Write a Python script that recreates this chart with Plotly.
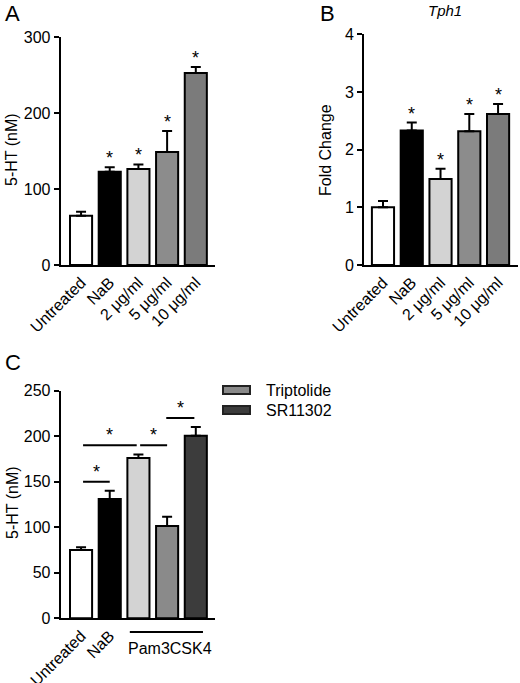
import plotly.graph_objects as go

# panel A: 5-HT release
a_labels = ["Untreated", "NaB", "2 μg/ml", "5 μg/ml", "10 μg/ml"]
a_vals = [65, 123, 126.5, 149, 253]
a_err = [5, 5.7, 6, 27.5, 8]
a_sig = [False, True, True, True, True]

# panel B: Tph1 fold change
b_labels = ["Untreated", "NaB", "2 μg/ml", "5 μg/ml", "10 μg/ml"]
b_vals = [1.0, 2.33, 1.49, 2.32, 2.62]
b_err = [0.11, 0.14, 0.18, 0.30, 0.17]
b_sig = [False, True, True, True, True]

# panel C: inhibitors
c_names = ["Untreated", "NaB", "Pam3CSK4", "Triptolide", "SR11302"]
c_ticks = ["Untreated", "NaB", "", "", ""]
c_vals = [75, 131, 176, 101.5, 200.5]
c_err = [3, 9, 4, 10, 9.5]
c_legend = [False, False, False, True, True]
# comparisons (x0, x1, y)
c_comp_x0 = [0.07, 0.07, 2.06, 2.97]
c_comp_x1 = [1.0, 1.94, 3.0, 3.95]
c_comp_y = [150, 190, 190, 220]

ab_colors = ["white", "black", "#d3d3d3", "#8c8c8c", "#7b7b7b"]
c_colors = ["white", "black", "#d3d3d3", "#8a8a8a", "#3c3c3c"]

FONT = "Liberation Sans, Arial, sans-serif"
pos = list(range(5))
W, H = 520, 683

def px(x, y):
    return x / W, 1 - y / H

fig = go.Figure()

def add_bars(vals, err, colors, xa, ya):
    for i in range(len(vals)):
        fig.add_trace(go.Bar(
            x=[pos[i]], y=[vals[i]], xaxis=xa, yaxis=ya, width=0.77,
            marker=dict(color=colors[i], line=dict(color="black", width=2)),
            error_y=dict(type="data", array=[err[i]], arrayminus=[0], symmetric=False,
                         color="black", thickness=2, width=5),
            showlegend=False,
        ))

add_bars(a_vals, a_err, ab_colors, "x", "y")
add_bars(b_vals, b_err, ab_colors, "x2", "y2")
add_bars(c_vals, c_err, c_colors, "x3", "y3")

annotations = []
def txt(text, x, y, size=16, **kw):
    d = dict(x=x, y=y, text=text, showarrow=False, xanchor="center", yanchor="middle",
             font=dict(size=size, family=FONT, color="black"))
    d.update(kw)
    annotations.append(d)

def stars(vals, err, sig, xr, yr):
    for i in range(len(vals)):
        if sig[i]:
            txt("*", pos[i], vals[i] + err[i], 18, xref=xr, yref=yr, yanchor="bottom", yshift=-3)

stars(a_vals, a_err, a_sig, "x", "y")
stars(b_vals, b_err, b_sig, "x2", "y2")

shapes = []
for x0, x1, y in zip(c_comp_x0, c_comp_x1, c_comp_y):
    shapes.append(dict(type="line", xref="x3", yref="y3", x0=x0, x1=x1, y0=y, y1=y,
                       line=dict(color="black", width=2)))
    txt("*", (x0 + x1) / 2, y, 18, xref="x3", yref="y3", yanchor="bottom", yshift=-2)

# Pam3CSK4 bracket under the axis
shapes.append(dict(type="line", xref="x3", yref="paper", x0=1.70, x1=4.25,
                   y0=px(0, 632)[1], y1=px(0, 632)[1], line=dict(color="black", width=2)))
txt("Pam3CSK4", 3.1, px(0, 648)[1], 16, xref="x3", yref="paper")

# legend drawn by hand (wide flat swatches)
for k, i in enumerate([j for j in range(5) if c_legend[j]]):
    yc = 390 + 20 * k
    shapes.append(dict(type="rect", xref="paper", yref="paper",
                       x0=px(223, 0)[0], x1=px(250, 0)[0], y0=px(0, yc + 4)[1], y1=px(0, yc - 4)[1],
                       fillcolor=c_colors[i], line=dict(color="#222222", width=2)))
    txt(c_names[i], *px(264, yc), 16, xref="paper", yref="paper", xanchor="left")

# panel letters, titles
for t, x, y in [("A", 3, 14), ("B", 318, 14), ("C", 3, 362)]:
    txt(t, *px(x, y), 22, xref="paper", yref="paper", xanchor="left")
txt("<i>Tph1</i>", *px(445, 10), 15, xref="paper", yref="paper")
for t, x, y in [("5-HT (nM)", 12, 150), ("Fold Change", 326, 150), ("5-HT (nM)", 12, 503)]:
    txt(t, *px(x, y), 16, xref="paper", yref="paper", textangle=-90)

xcommon = dict(showline=True, linecolor="black", linewidth=2, ticks="", showgrid=False,
               zeroline=False, tickangle=-45, automargin=False,
               tickfont=dict(size=16, family=FONT, color="black"))
ycommon = dict(showline=True, linecolor="black", linewidth=2, ticks="outside", ticklen=5,
               tickwidth=2, tickcolor="black", showgrid=False, zeroline=False, automargin=False,
               tickfont=dict(size=16, family=FONT, color="black"))

fig.update_layout(
    template="none",
    width=W, height=H,
    margin=dict(l=0, r=0, t=0, b=0, autoexpand=False),
    paper_bgcolor="white", plot_bgcolor="white",
    barmode="overlay", showlegend=False,
    xaxis=dict(xcommon, domain=[0.1167, 0.4135], range=[-0.71, 4.67], tickvals=pos, ticktext=a_labels, anchor="y"),
    yaxis=dict(ycommon, domain=[0.612, 0.9454], range=[0, 300], tickvals=[0, 100, 200, 300], anchor="x"),
    xaxis2=dict(xcommon, domain=[0.70, 0.996], range=[-0.66, 4.69], tickvals=pos, ticktext=b_labels, anchor="y2"),
    yaxis2=dict(ycommon, domain=[0.612, 0.9498], range=[0, 4], tickvals=[0, 1, 2, 3, 4], anchor="x2"),
    xaxis3=dict(xcommon, domain=[0.1167, 0.4135], range=[-0.71, 4.67], tickvals=pos, ticktext=c_ticks, anchor="y3"),
    yaxis3=dict(ycommon, domain=[0.0947, 0.428], range=[0, 250], tickvals=[0, 50, 100, 150, 200, 250], anchor="x3"),
    shapes=shapes, annotations=annotations,
    font=dict(family=FONT, color="black"),
)

# the page body has a default 8px margin, drop it so the figure fills the window
fig.write_html("out.html", config={"displayModeBar": False},
               post_script="document.body.style.margin='0';")
